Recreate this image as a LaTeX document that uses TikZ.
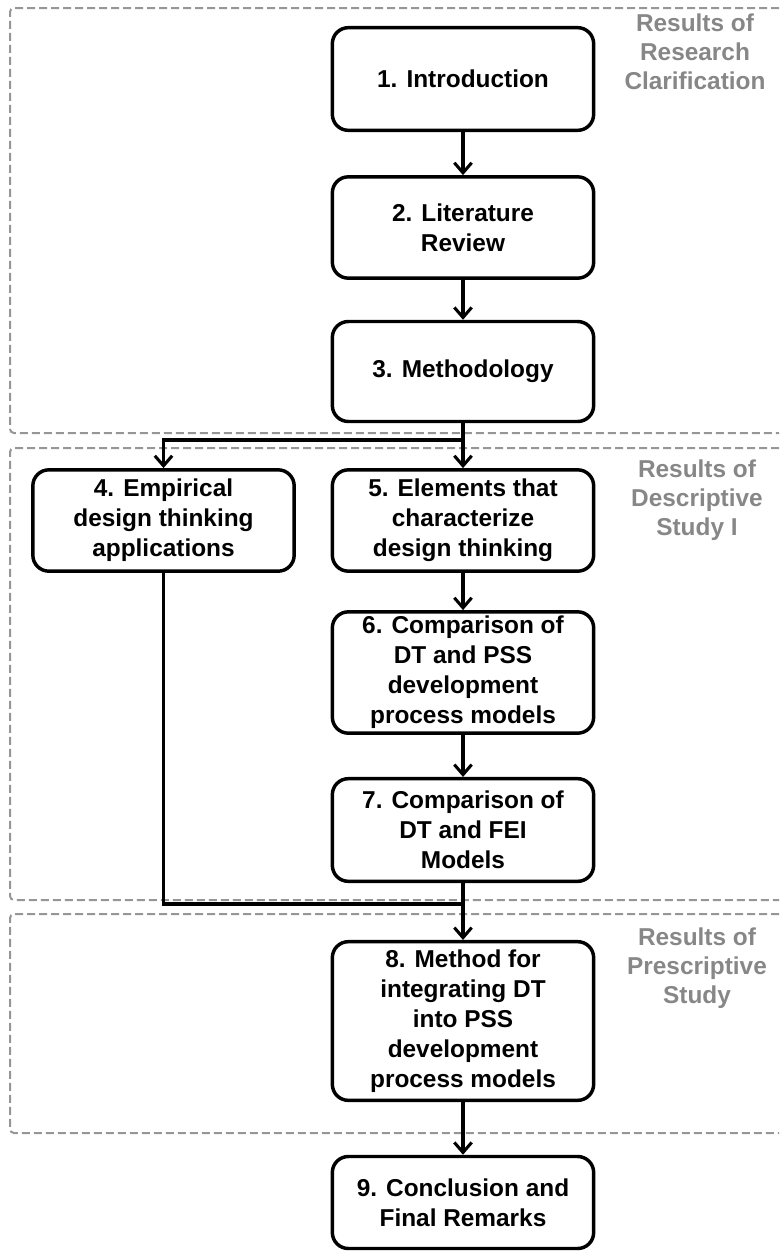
\documentclass[tikz,border=0pt]{standalone}
\usepackage{fontspec}
\setmainfont{Liberation Sans}
\usetikzlibrary{arrows.meta}
\definecolor{zonegray}{RGB}{150,150,150}
\definecolor{labelgray}{RGB}{135,135,135}
\begin{document}
\begin{tikzpicture}[x=0.75pt,y=-0.75pt,
  stepbox/.style={draw=black,line width=2.6pt,rounded corners=12pt,fill=white,
    align=center,inner sep=2pt,minimum width=196pt,
    font=\fontsize{18.3}{22.5}\selectfont\bfseries},
  zone/.style={draw=zonegray,line width=1.5pt,dash pattern=on 6pt off 3pt,rounded corners=3pt},
  zonelabel/.style={text=labelgray,align=center,
    font=\fontsize{18.3}{21.8}\selectfont\bfseries},
  link/.style={draw=black,line width=2.3pt},
  arr/.style={link,-{Straight Barb[length=7.5pt,width=13pt]}}]

\useasboundingbox (0,0) rectangle (779,1254);

% dashed result zones (open on the right)
\draw[zone] (779,8) -- (10,8) -- (10,433) -- (779,433);
\draw[zone] (779,448) -- (10,448) -- (10,900) -- (779,900);
\draw[zone] (779,914) -- (10,914) -- (10,1133) -- (779,1133);

% zone captions
\node[zonelabel] (z1) at (695,52) {Results of\\Research\\Clarification};
\node[zonelabel] (z2) at (697,500) {Results of\\Descriptive\\Study I};
\node[zonelabel] (z3) at (697,968) {Results of\\Prescriptive\\Study};

% chapters
\node[stepbox,minimum height=77pt] (b1) at (463,79) {1. Introduction};
\node[stepbox,minimum height=76pt] (b2) at (463,227.5) {2. Literature\\Review};
\node[stepbox,minimum height=75pt] (b3) at (463,371.5) {3. Methodology};
\node[stepbox,minimum height=76pt] (b4) at (163.5,520.5) {4. Empirical\\design thinking\\applications};
\node[stepbox,minimum height=76pt] (b5) at (463,520.5) {5. Elements that\\characterize\\design thinking};
\node[stepbox,minimum height=91pt] (b6) at (463,672.5) {6. Comparison of\\DT and PSS\\development\\process models};
\node[stepbox,minimum height=77pt] (b7) at (463,830) {7. Comparison of\\DT and FEI\\Models};
\node[stepbox,minimum height=119pt] (b8) at (463,1021) {8. Method for\\integrating DT\\into PSS\\development\\process models};
\node[stepbox,minimum height=69pt] (b9) at (463,1202.5) {9. Conclusion and\\Final Remarks};

% junction points
\coordinate (s1) at (463,440);
\coordinate (j8) at (463,904);

% connectors
\draw[arr] (b1) -- (b2);
\draw[arr] (b2) -- (b3);
\draw[link] (b3) -- (s1);
\draw[arr] (s1) -| (b4);
\draw[arr] (s1) -- (b5);
\draw[arr] (b5) -- (b6);
\draw[arr] (b6) -- (b7);
\draw[link] (b4) |- (j8);
\draw[arr] (b7) -- (b8);
\draw[arr] (b8) -- (b9);
\end{tikzpicture}
\end{document}
